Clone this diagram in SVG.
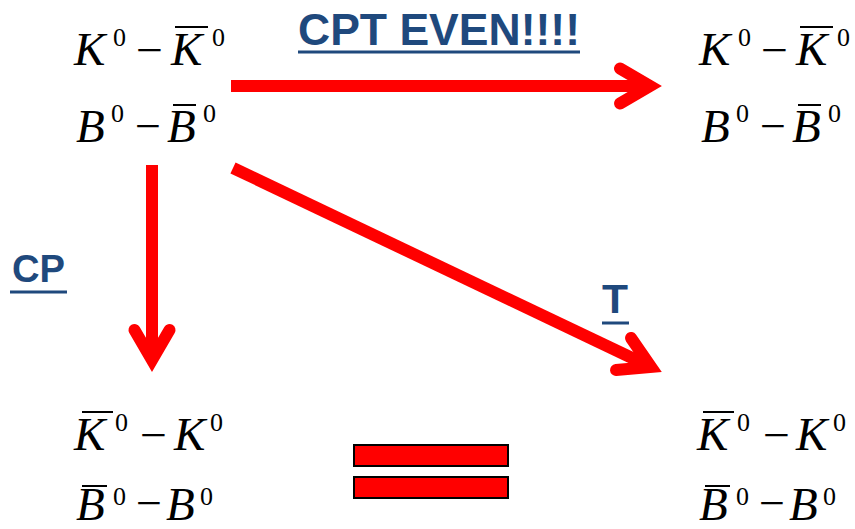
<svg xmlns="http://www.w3.org/2000/svg" width="855" height="529" viewBox="0 0 855 529">
<style>
.m{font-family:"Liberation Serif","Times New Roman",serif;font-style:italic;font-size:47px;fill:#000}
.s{font-family:"Liberation Serif","Times New Roman",serif;font-size:26px;fill:#000}
.n{font-family:"Liberation Serif","Times New Roman",serif;font-size:44px;fill:#000}
.bar{stroke:#000;stroke-width:2}
.lbl{font-family:"Liberation Sans",Arial,sans-serif;font-weight:bold;fill:#1F497D}
.ul{stroke:#1F497D;stroke-width:3}
.arr{fill:none;stroke:#FF0000;stroke-width:12}
.head{fill:none;stroke:#FF0000;stroke-width:12;stroke-linecap:round;stroke-linejoin:miter;stroke-miterlimit:10}
.eq{fill:#FF0000;stroke:#000;stroke-width:2}
</style>
<rect width="855" height="529" fill="#fff"/>
<g id="connectors">
<path class="arr" d="M231,86 H650"/>
<path class="head" d="M620,68.5 L650,86 L620,103.5"/>
<path class="arr" d="M152,165 V360"/>
<path class="head" d="M134.5,330 L152,360 L169.5,330"/>
<path class="arr" d="M233,168 L651,367"/>
<path class="head" d="M631,338 L651,367 L616,370"/>
</g>
<g id="label-cpt">
<text class="lbl" x="298" y="45" font-size="45" textLength="282" lengthAdjust="spacingAndGlyphs">CPT EVEN!!!!</text>
<line class="ul" x1="298" y1="52" x2="580" y2="52"/>
</g>
<g id="label-cp">
<text class="lbl" x="12" y="282" font-size="38" textLength="53" lengthAdjust="spacingAndGlyphs">CP</text>
<line class="ul" x1="10" y1="292" x2="67" y2="292"/>
</g>
<g id="label-t">
<text class="lbl" x="602" y="313" font-size="40" textLength="26" lengthAdjust="spacingAndGlyphs">T</text>
<line class="ul" x1="602" y1="323" x2="629" y2="323"/>
</g>
<g id="node-top-left">
<text class="m" x="74" y="65">K</text>
<text class="s" x="113" y="46">0</text>
<text class="n" x="136" y="65" textLength="27" lengthAdjust="spacingAndGlyphs">−</text>
<text class="m" x="171" y="65">K</text>
<line class="bar" x1="175" y1="27" x2="208" y2="27"/>
<text class="s" x="212" y="46">0</text>
<text class="m" x="76" y="142">B</text>
<text class="s" x="111" y="122">0</text>
<text class="n" x="135" y="141" textLength="26" lengthAdjust="spacingAndGlyphs">−</text>
<text class="m" x="167" y="142">B</text>
<line class="bar" x1="173" y1="105" x2="196" y2="105"/>
<text class="s" x="203" y="122">0</text>
</g>
<g id="node-top-right">
<text class="m" x="699" y="65">K</text>
<text class="s" x="738" y="46">0</text>
<text class="n" x="761" y="65" textLength="27" lengthAdjust="spacingAndGlyphs">−</text>
<text class="m" x="796" y="65">K</text>
<line class="bar" x1="800" y1="27" x2="833" y2="27"/>
<text class="s" x="837" y="46">0</text>
<text class="m" x="701" y="142">B</text>
<text class="s" x="736" y="122">0</text>
<text class="n" x="760" y="141" textLength="26" lengthAdjust="spacingAndGlyphs">−</text>
<text class="m" x="792" y="142">B</text>
<line class="bar" x1="798" y1="105" x2="821" y2="105"/>
<text class="s" x="828" y="122">0</text>
</g>
<g id="node-bottom-left">
<text class="m" x="74" y="450">K</text>
<line class="bar" x1="82" y1="412" x2="113" y2="412"/>
<text class="s" x="115" y="431">0</text>
<text class="n" x="140" y="450" textLength="27" lengthAdjust="spacingAndGlyphs">−</text>
<text class="m" x="174" y="450">K</text>
<text class="s" x="210" y="431">0</text>
<text class="m" x="76" y="520">B</text>
<line class="bar" x1="82" y1="486" x2="107" y2="486"/>
<text class="s" x="113" y="505">0</text>
<text class="n" x="136" y="518" textLength="26" lengthAdjust="spacingAndGlyphs">−</text>
<text class="m" x="166" y="520">B</text>
<text class="s" x="200" y="505">0</text>
</g>
<g id="node-bottom-right">
<text class="m" x="697" y="450">K</text>
<line class="bar" x1="703" y1="412" x2="734" y2="412"/>
<text class="s" x="737" y="431">0</text>
<text class="n" x="763" y="450" textLength="27" lengthAdjust="spacingAndGlyphs">−</text>
<text class="m" x="796" y="450">K</text>
<text class="s" x="833" y="431">0</text>
<text class="m" x="699" y="520">B</text>
<line class="bar" x1="705" y1="486" x2="730" y2="486"/>
<text class="s" x="736" y="505">0</text>
<text class="n" x="759" y="518" textLength="26" lengthAdjust="spacingAndGlyphs">−</text>
<text class="m" x="789" y="520">B</text>
<text class="s" x="823" y="505">0</text>
</g>
<g id="equals">
<rect class="eq" x="354" y="445" width="154" height="21"/>
<rect class="eq" x="354" y="477" width="154" height="21"/>
</g>
</svg>
